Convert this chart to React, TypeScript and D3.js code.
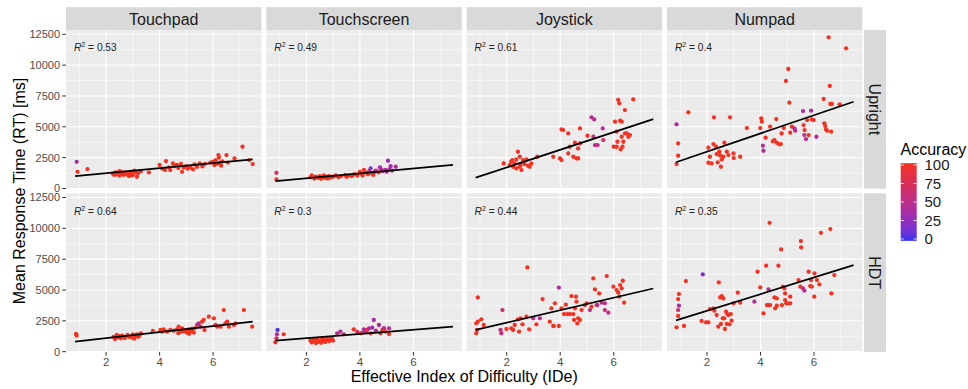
import React from "react";
import * as d3 from "d3";

// ---------- data ----------
const devices = ["Touchpad", "Touchscreen", "Joystick", "Numpad"];
const postures = ["Upright", "HDT"];
const r2Labels = [
  ["0.53", "0.49", "0.61", "0.4"],
  ["0.64", "0.3", "0.44", "0.35"],
];
const fitIntercept = [
  [820, 423, 276, 1510],
  [605, 743, 1337, 1965],
];
const fitSlope = [
  [205, 200, 715, 738],
  [244, 171, 506, 675],
];
const xTicks = [2, 4, 6];
const xMinor = [1, 3, 5, 7];
const yTicks = [0, 2500, 5000, 7500, 10000, 12500];
const yMinor = [1250, 3750, 6250, 8750, 11250];
const legendTicks = [0, 25, 50, 75, 100];
const xDomain = [0.5, 7.81];
const yDomain = [-20, 12840];

type P = number[]; // [IDe, RT, accuracy?]

const touchpadUpright: P[] = [
  [0.9, 2160, 40], [0.93, 1350], [1.3, 1570],
  [2.25, 1200], [2.3, 1100], [2.35, 1300], [2.4, 1150], [2.45, 1250], [2.5, 1050], [2.55, 1350], [2.6, 1200],
  [2.65, 1100], [2.7, 1300], [2.75, 1150], [2.8, 1250], [2.85, 1000], [2.9, 1350], [2.95, 1200], [3.0, 1100],
  [3.05, 1450], [3.1, 1300], [3.15, 950], [3.2, 1250], [3.3, 1400], [2.5, 1400], [2.95, 1050], [3.6, 1300],
  [4.0, 1900], [4.1, 1600], [4.2, 1500], [4.24, 2220], [4.35, 1700], [4.4, 1490], [4.5, 2030], [4.55, 1800],
  [4.65, 1900], [4.7, 1650], [4.84, 1350], [4.8, 2000], [4.9, 1700], [5.0, 1800], [5.05, 1600], [5.15, 1700],
  [5.25, 1550], [5.3, 1950], [5.4, 1750], [5.5, 2030], [5.6, 1800], [5.7, 2000], [5.9, 2100], [6.0, 2165],
  [6.05, 1900], [6.1, 2300], [6.15, 2000], [6.2, 2706], [6.22, 2500], [6.25, 2100], [6.3, 1850], [6.35, 2200],
  [6.5, 2706], [6.55, 2100], [6.8, 2435], [7.1, 3383], [7.35, 2300], [7.48, 1975],
];

const touchscreenUpright: P[] = [
  [0.88, 1270, 70], [0.88, 730],
  [2.15, 900], [2.2, 1050], [2.3, 800], [2.35, 950], [2.45, 850], [2.5, 1000], [2.55, 780], [2.6, 900],
  [2.65, 1050], [2.7, 850], [2.75, 950], [2.8, 800], [2.85, 1000], [2.9, 880], [3.0, 950], [3.1, 1050],
  [3.2, 900], [3.3, 1000], [3.45, 1100], [3.5, 950], [3.6, 1050], [3.7, 1000], [3.8, 1150], [3.9, 1050],
  [4.0, 1350], [4.05, 1200], [4.1, 1050], [4.15, 1500], [4.2, 1300], [4.3, 1150], [4.35, 1400, 60],
  [4.4, 1620, 20], [4.45, 1250], [4.5, 1100], [4.55, 1350, 50], [4.6, 1450, 40], [4.7, 1300],
  [4.75, 1700, 35], [4.8, 1550, 40], [4.85, 1400, 45], [4.95, 1500, 40], [5.0, 1350, 50], [5.05, 2245, 30],
  [5.1, 1550, 40], [5.15, 1800, 35], [5.2, 1450, 45], [5.34, 1760, 40],
];

const joystickUpright: P[] = [
  [1.89, 2030], [2.11, 1894], [2.17, 2165], [2.24, 1759], [2.3, 2030], [2.36, 1624], [2.42, 2977], [2.49, 2571],
  [2.52, 1894], [2.55, 1488], [2.61, 2300], [2.67, 1975], [2.74, 2354], [2.8, 1840], [2.86, 1759], [2.92, 2030],
  [3.14, 2571], [2.49, 1759], [2.21, 2300], [2.36, 2354], [3.74, 2571], [3.99, 2435], [4.05, 2300], [4.11, 4735],
  [4.05, 4790], [4.3, 4465], [4.3, 2841], [4.36, 3383], [4.49, 2571], [4.55, 3707], [4.61, 2435], [4.67, 2435],
  [4.67, 3247], [4.74, 4870], [4.74, 3653], [5.02, 4275], [5.17, 5764, 50], [5.27, 5600, 50], [5.24, 4194, 55],
  [5.3, 3518, 50], [5.4, 3518, 55], [5.59, 4870, 50], [5.61, 3924, 70], [6.0, 3383], [6.05, 5412], [6.11, 3383],
  [6.14, 3788], [6.17, 7171], [6.21, 6900], [6.24, 5493], [6.3, 5412], [6.3, 4194], [6.36, 3788], [6.42, 6359],
  [6.42, 4465], [6.49, 4465], [6.55, 4194], [6.61, 4330], [6.73, 7225], [6.11, 4600], [6.26, 3166], [6.33, 3383],
];

const numpadUpright: P[] = [
  [0.86, 5196, 40], [0.92, 3653], [0.92, 2652], [0.86, 1975], [1.3, 6170], [2.05, 3301], [2.11, 2571],
  [2.05, 2084], [2.17, 2030], [2.26, 5764], [2.24, 3600], [2.34, 3383], [2.36, 2787], [2.4, 2111], [2.46, 2977],
  [2.49, 2679], [2.52, 1759], [2.55, 2354], [2.61, 2571], [2.65, 3707], [2.74, 2977], [2.8, 2706], [2.86, 5764],
  [2.99, 2841], [3.0, 2462], [3.24, 2571], [3.49, 4898], [3.99, 4898], [4.03, 5683], [4.05, 5412],
  [4.09, 3464, 45], [4.11, 3058, 45], [4.19, 4113], [4.36, 5006], [4.46, 3815], [4.52, 3924], [4.59, 5629],
  [4.61, 3707], [4.71, 3572], [4.76, 3599], [4.79, 4465], [4.87, 4898], [4.95, 8713], [5.04, 9687], [5.08, 6954],
  [5.11, 4519], [5.17, 5006], [5.27, 4870, 45], [5.3, 4681, 45], [5.59, 6278, 40], [5.61, 5141], [5.65, 4735],
  [5.64, 4330, 45], [5.7, 4005, 45], [5.74, 5547], [5.8, 4330], [5.89, 6305, 40], [5.92, 5601], [5.99, 5547],
  [6.09, 4194, 45], [6.36, 7252], [6.39, 5277], [6.42, 5060], [6.45, 4790], [6.49, 4681], [6.55, 12258],
  [6.59, 8307], [6.61, 6846], [6.67, 6846], [6.64, 4600], [6.96, 6820], [7.2, 11365],
];

const touchpadHDT: P[] = [
  [0.875, 1431], [0.9, 1296],
  [2.28, 1200], [2.33, 1026], [2.4, 1350], [2.45, 1150], [2.5, 1250], [2.55, 1080], [2.6, 1300], [2.65, 1200],
  [2.7, 1100], [2.8, 1350], [2.85, 1200], [2.95, 1150], [3.0, 1400], [3.05, 1050], [3.1, 1250], [3.15, 1400],
  [3.2, 1200], [3.3, 1485], [3.25, 1300], [3.75, 1674], [4.03, 1755], [4.09, 1620], [4.15, 1810], [4.28, 1620],
  [4.4, 1755], [4.53, 1700], [4.65, 1810], [4.71, 2025], [4.78, 1620], [4.84, 1890], [4.9, 1755], [4.96, 1620],
  [5.03, 1539], [5.09, 1810], [5.15, 1700], [5.21, 1620], [5.28, 1539], [5.31, 1890], [5.4, 2160, 60],
  [5.46, 2295, 45], [5.53, 2025, 65], [5.59, 2430], [5.65, 2565], [5.68, 1755], [5.84, 2835], [6.03, 2700],
  [6.09, 2160], [6.15, 2025], [6.28, 2025], [6.4, 3375], [6.46, 2295], [6.53, 2430], [6.59, 2025], [6.78, 2160],
  [6.84, 2295], [7.15, 3375], [7.46, 2025], [4.7, 1500], [4.85, 1650], [5.0, 1750], [5.1, 1450], [5.2, 1850],
];

const touchscreenHDT: P[] = [
  [0.92, 1755, 5], [0.9, 1404, 40], [0.88, 1080, 70], [0.84, 756], [1.15, 1404],
  [2.15, 900], [2.2, 750], [2.3, 850], [2.35, 700], [2.4, 950], [2.45, 800], [2.5, 900], [2.55, 720], [2.6, 850],
  [2.65, 1000], [2.7, 780], [2.75, 900], [2.8, 1050], [2.85, 850], [2.9, 950], [2.95, 1100], [3.0, 900],
  [2.4, 1000], [2.6, 1080], [2.25, 980], [3.15, 1485, 50], [3.27, 1620, 45], [3.4, 1404, 60], [3.77, 1809],
  [4.02, 1485], [4.15, 1809, 40], [4.21, 1620, 40], [4.27, 1755], [4.34, 1890, 40], [4.4, 1485], [4.46, 1944, 35],
  [4.52, 2565, 35], [4.59, 1620], [4.71, 2160, 40], [4.77, 1485], [4.84, 1755], [4.96, 1620], [5.09, 1890, 40],
  [5.09, 1431], [4.1, 1550, 55], [4.6, 1700, 45], [4.9, 1900, 50], [3.9, 1600, 70],
];

const joystickHDT: P[] = [
  [0.92, 4401], [0.86, 2295], [0.92, 2430], [1.05, 2619], [1.14, 2160], [0.86, 1485], [0.89, 1755],
  [1.84, 3375, 60], [1.77, 1755, 55], [1.8, 1485, 55], [1.99, 1836], [2.17, 1890], [2.24, 1755], [2.3, 2160],
  [2.42, 2619], [2.46, 1620], [2.52, 2700], [2.59, 2214], [2.74, 2835], [2.77, 6831], [2.84, 1809],
  [2.99, 2700, 50], [3.11, 2214], [3.24, 2700, 50], [3.34, 4266], [3.61, 2430], [3.67, 3510], [3.74, 2079],
  [3.76, 2079], [3.8, 3915], [3.95, 2079], [3.95, 5184, 40], [4.05, 3510], [4.14, 3051], [4.21, 3807],
  [4.26, 3051], [4.36, 3051], [4.42, 4509], [4.49, 3051], [4.52, 2565], [4.55, 3510], [4.59, 4455], [4.61, 4050],
  [4.64, 2295], [4.67, 2700], [4.74, 2565], [4.8, 3375], [4.92, 3780], [4.99, 3915], [5.11, 3375, 45],
  [5.17, 3645], [5.24, 5940], [5.3, 5049], [5.36, 3780], [5.39, 3780, 45], [5.46, 4725], [5.55, 3969, 50],
  [5.67, 3915, 50], [5.74, 6129], [5.67, 3375, 55], [5.8, 3159, 50], [5.99, 5265], [6.11, 4995], [6.17, 4779],
  [6.24, 5400], [6.3, 5130], [6.34, 5751], [6.39, 3969], [6.21, 4455],
];

const numpadHDT: P[] = [
  [0.86, 1971], [0.92, 2889], [0.92, 3375, 60], [0.95, 3726, 40], [0.92, 4266], [0.95, 4671], [1.14, 2079],
  [1.21, 5724], [1.8, 2484], [1.96, 2376], [2.05, 2376], [1.84, 6264, 20], [2.11, 3456], [2.24, 3510],
  [2.27, 3321], [2.36, 2970], [2.42, 2025], [2.44, 5616], [2.49, 4401], [2.52, 2241], [2.55, 4509], [2.59, 2700],
  [2.61, 4320], [2.64, 2700], [2.67, 1836], [2.71, 3240], [2.74, 2241], [2.77, 3024], [2.8, 2970], [2.84, 2214],
  [2.89, 3051], [2.92, 2511], [2.99, 3915], [3.15, 4779], [3.24, 3969], [3.77, 4050, 45], [3.89, 6480],
  [3.99, 5211], [4.11, 3105], [4.21, 6966], [4.24, 3780], [4.3, 3780], [4.34, 10449], [4.3, 5049, 50],
  [4.36, 3780], [4.52, 4401], [4.55, 3510], [4.61, 4320], [4.61, 3726], [4.67, 6966], [4.77, 8289], [4.8, 3780],
  [4.84, 5265], [4.89, 5130], [4.92, 4725], [4.92, 4185], [4.96, 3915], [5.01, 3915], [5.11, 4455], [5.11, 3915],
  [5.42, 5805], [5.49, 5265], [5.51, 8964], [5.52, 8451], [5.59, 5130, 50], [5.64, 4941, 50], [5.8, 6480],
  [5.86, 5319], [5.89, 5805], [5.92, 5265], [6.02, 6345], [6.01, 4455], [6.11, 5805], [6.2, 5454], [6.26, 9639],
  [6.61, 9936], [6.65, 4725], [6.76, 6210],
];

const panelData: P[][][] = [
  [touchpadUpright, touchscreenUpright, joystickUpright, numpadUpright],
  [touchpadHDT, touchscreenHDT, joystickHDT, numpadHDT],
];

// ---------- layout ----------
const W = 968;
const H = 389;
const FONT = "'Liberation Sans', Arial, Helvetica, sans-serif";
const panelLeft = 66;
const panelW = 195.5;
const gapX = 4.8;
const rowTops = [30.1, 193.3];
const panelH = 158.6;
const stripTop = 7.2;
const rightStripX = 864;
const rightStripW = 22;

const accColor = d3
  .scaleLinear<string>()
  .domain([0, 100])
  .range(["#3434F2", "#F5321C"])
  .interpolate(d3.interpolateLab);

const allX = panelData.flat(2).map((d) => d[0]);
const xLineExtent = d3.extent(allX) as [number, number];

function Panel({ row, col }: { row: number; col: number }) {
  const x0 = panelLeft + col * (panelW + gapX);
  const y0 = rowTops[row];
  const xs = d3.scaleLinear().domain(xDomain).range([x0, x0 + panelW]);
  const ys = d3.scaleLinear().domain(yDomain).range([y0 + panelH, y0]);
  const pts = panelData[row][col];
  const a = fitIntercept[row][col];
  const b = fitSlope[row][col];
  const lineGen = d3
    .line<number>()
    .x((d) => xs(d))
    .y((d) => ys(a + b * d));
  const clipId = `clip-${row}-${col}`;
  return (
    <g>
      <defs>
        <clipPath id={clipId}>
          <rect x={x0} y={y0} width={panelW} height={panelH} />
        </clipPath>
      </defs>
      <rect x={x0} y={y0} width={panelW} height={panelH} fill="#EBEBEB" />
      {yMinor.map((v) => (
        <line key={"ym" + v} x1={x0} x2={x0 + panelW} y1={ys(v)} y2={ys(v)} stroke="#fff" strokeWidth={0.55} />
      ))}
      {xMinor.map((v) => (
        <line key={"xm" + v} x1={xs(v)} x2={xs(v)} y1={y0} y2={y0 + panelH} stroke="#fff" strokeWidth={0.55} />
      ))}
      {yTicks.map((v) => (
        <line key={"y" + v} x1={x0} x2={x0 + panelW} y1={ys(v)} y2={ys(v)} stroke="#fff" strokeWidth={1.1} />
      ))}
      {xTicks.map((v) => (
        <line key={"x" + v} x1={xs(v)} x2={xs(v)} y1={y0} y2={y0 + panelH} stroke="#fff" strokeWidth={1.1} />
      ))}
      <g clipPath={`url(#${clipId})`}>
        {pts.map((d, i) => (
          <circle key={i} cx={xs(d[0])} cy={ys(d[1])} r={2.15} fill={accColor(d[2] ?? 98)} />
        ))}
        <path d={lineGen(xLineExtent) || ""} stroke="#000" strokeWidth={1.7} fill="none" />
      </g>
      <text x={x0 + 8} y={y0 + 21.3} fontFamily={FONT} fontSize={10.2} fill="#222">
        <tspan fontStyle="italic">R</tspan>
        <tspan dy={-4} fontSize={7}>2</tspan>
        <tspan dy={4}>{" = " + r2Labels[row][col]}</tspan>
      </text>
      {col === 0 &&
        yTicks.map((v) => (
          <g key={"yt" + v}>
            <line x1={x0 - 3.7} x2={x0} y1={ys(v)} y2={ys(v)} stroke="#333" strokeWidth={1} />
            <text
              x={x0 - 6}
              y={ys(v) + 3.9}
              textAnchor="end"
              fontFamily={FONT}
              fontSize={11}
              fill="#4D4D4D"
            >
              {v}
            </text>
          </g>
        ))}
      {row === 1 &&
        xTicks.map((v) => (
          <g key={"xt" + v}>
            <line x1={xs(v)} x2={xs(v)} y1={y0 + panelH} y2={y0 + panelH + 3.7} stroke="#333" strokeWidth={1} />
            <text
              x={xs(v)}
              y={y0 + panelH + 14}
              textAnchor="middle"
              fontFamily={FONT}
              fontSize={11.5}
              fill="#4D4D4D"
            >
              {v}
            </text>
          </g>
        ))}
    </g>
  );
}

export default function App() {
  const legendScale = d3.scaleLinear().domain([0, 100]).range([239, 165]);
  const barTop = legendScale(102.5);
  const barBottom = legendScale(-2.5);
  const gradStops = d3.range(0, 1.0001, 0.05);
  return (
    <svg
      width={W}
      height={H}
      style={{ position: "absolute", left: 0, top: 0, background: "#fff" }}
      xmlns="http://www.w3.org/2000/svg"
    >
      <defs>
        <linearGradient id="accGrad" x1="0" y1="1" x2="0" y2="0">
          {gradStops.map((t) => (
            <stop key={t} offset={t} stopColor={accColor(t * 100)} />
          ))}
        </linearGradient>
      </defs>
      <rect x={0} y={0} width={W} height={H} fill="#fff" />
      {devices.map((dname, c) => {
        const x0 = panelLeft + c * (panelW + gapX);
        return (
          <g key={dname}>
            <rect x={x0} y={stripTop} width={panelW} height={rowTops[0] - stripTop} fill="#D9D9D9" />
            <text
              x={x0 + panelW / 2}
              y={24.6}
              textAnchor="middle"
              fontFamily={FONT}
              fontSize={16}
              fill="#1A1A1A"
            >
              {dname}
            </text>
          </g>
        );
      })}
      {postures.map((p, r) => {
        const cy = rowTops[r] + panelH / 2;
        return (
          <g key={p}>
            <rect x={rightStripX} y={rowTops[r]} width={rightStripW} height={panelH} fill="#D9D9D9" />
            <text
              transform={`translate(${rightStripX + rightStripW / 2 - 5.6},${cy}) rotate(90)`}
              textAnchor="middle"
              fontFamily={FONT}
              fontSize={16}
              fill="#1A1A1A"
            >
              {p}
            </text>
          </g>
        );
      })}
      {postures.map((p, r) => devices.map((dn, c) => <Panel key={p + dn} row={r} col={c} />))}
      <text
        x={panelLeft + (4 * panelW + 3 * gapX) / 2}
        y={382}
        textAnchor="middle"
        fontFamily={FONT}
        fontSize={16}
        fill="#000"
      >
        Effective Index of Difficulty (IDe)
      </text>
      <text
        transform={`translate(24.5,${(rowTops[0] + rowTops[1] + panelH) / 2}) rotate(-90)`}
        textAnchor="middle"
        fontFamily={FONT}
        fontSize={16}
        fill="#000"
      >
        Mean Response Time (RT) [ms]
      </text>
      <text x={900.5} y={154.5} fontFamily={FONT} fontSize={16} fill="#000">
        Accuracy
      </text>
      <rect x={900.7} y={barTop} width={16} height={barBottom - barTop} fill="url(#accGrad)" />
      {legendTicks.map((v) => (
        <g key={"lg" + v}>
          <line x1={900.7} x2={903.9} y1={legendScale(v)} y2={legendScale(v)} stroke="#fff" strokeWidth={0.8} />
          <line x1={913.5} x2={916.7} y1={legendScale(v)} y2={legendScale(v)} stroke="#fff" strokeWidth={0.8} />
          <text x={924.5} y={legendScale(v) + 5.3} fontFamily={FONT} fontSize={15} fill="#1A1A1A">
            {v}
          </text>
        </g>
      ))}
    </svg>
  );
}
